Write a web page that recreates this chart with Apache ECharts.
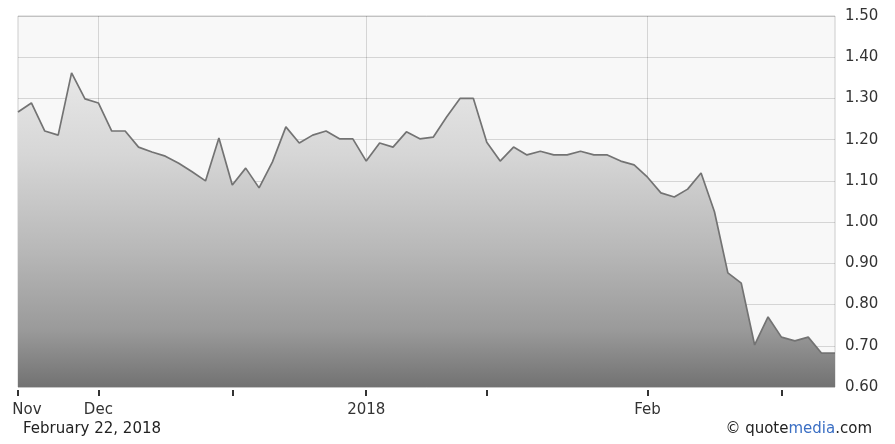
<!DOCTYPE html>
<html>
<head>
<meta charset="utf-8">
<script src="https://cdn.jsdelivr.net/npm/echarts@6/dist/echarts.min.js"></script>
<style>
  html, body { margin: 0; padding: 0; background: #fff; }
  #chart { width: 895px; height: 444px; }
</style>
</head>
<body>
<div id="chart"></div>
<script>
// trading days, Nov 22 2017 .. Feb 22 2018
const dates = [
  '2017-11-22', '2017-11-24', '2017-11-27', '2017-11-28', '2017-11-29', '2017-11-30',
  '2017-12-01', '2017-12-04', '2017-12-05', '2017-12-06', '2017-12-07', '2017-12-08',
  '2017-12-11', '2017-12-12', '2017-12-13', '2017-12-14', '2017-12-15',
  '2017-12-18', '2017-12-19', '2017-12-20', '2017-12-21', '2017-12-22',
  '2017-12-26', '2017-12-27', '2017-12-28', '2017-12-29',
  '2018-01-02', '2018-01-03', '2018-01-04', '2018-01-05',
  '2018-01-08', '2018-01-09', '2018-01-10', '2018-01-11', '2018-01-12',
  '2018-01-16', '2018-01-17', '2018-01-18', '2018-01-19',
  '2018-01-22', '2018-01-23', '2018-01-24', '2018-01-25', '2018-01-26',
  '2018-01-29', '2018-01-30', '2018-01-31',
  '2018-02-01', '2018-02-02', '2018-02-05', '2018-02-06', '2018-02-07', '2018-02-08', '2018-02-09',
  '2018-02-12', '2018-02-13', '2018-02-14', '2018-02-15', '2018-02-16',
  '2018-02-20', '2018-02-21', '2018-02-22'
];

// closing prices
const prices = [
  1.267, 1.289, 1.221, 1.211, 1.362, 1.299,
  1.289, 1.221, 1.221, 1.182, 1.170, 1.160,
  1.143, 1.122, 1.100, 1.204, 1.090,
  1.131, 1.083, 1.146, 1.231, 1.192,
  1.211, 1.221, 1.202, 1.202,
  1.148, 1.192, 1.182, 1.219,
  1.202, 1.206, 1.255, 1.300, 1.300,
  1.194, 1.148, 1.182, 1.163,
  1.172, 1.163, 1.163, 1.172, 1.163,
  1.163, 1.148, 1.139,
  1.109, 1.071, 1.061, 1.080, 1.119, 1.025, 0.877,
  0.852, 0.702, 0.770, 0.721, 0.712,
  0.721, 0.682, 0.682
];

// x axis labels and the extra unlabelled ticks
const labelDates = ['2017-11-22', '2017-12-01', '2018-01-02', '2018-02-01'];
const tickLabels = ['Nov', 'Dec', '2018', 'Feb'];
const minorTickDates = ['2017-12-15', '2018-01-16', '2018-02-15'];

const FONT = 'DejaVu Sans';

const chart = echarts.init(document.getElementById('chart'), null, { renderer: 'canvas' });

chart.setOption({
  animation: false,
  backgroundColor: '#ffffff',
  grid: {
    left: 18,
    right: 60,
    top: 16,
    bottom: 57,
    show: true,
    backgroundColor: '#f8f8f8',
    borderColor: '#cccccc',
    borderWidth: 1
  },
  xAxis: {
    type: 'category',
    data: dates,
    boundaryGap: false,
    offset: 3,
    z: 3,
    axisLine: { show: false },
    axisTick: {
      show: true,
      length: 6,
      interval: (i, v) => labelDates.includes(v) || minorTickDates.includes(v),
      lineStyle: { color: '#333', width: 2 }
    },
    axisLabel: {
      interval: (i, v) => labelDates.includes(v),
      margin: 13,
      color: '#333',
      fontFamily: FONT,
      fontSize: 15,
      formatter: v => {
        const k = labelDates.indexOf(v);
        if (k === 0) return '{first|' + tickLabels[k] + '}';
        return k >= 0 ? tickLabels[k] : '';
      },
      rich: {
        first: { fontFamily: FONT, fontSize: 15, color: '#333', padding: [0, 0, 0, 18] }
      }
    },
    splitLine: {
      show: true,
      interval: (i, v) => labelDates.includes(v) && i > 0,
      lineStyle: { color: 'rgba(0,0,0,0.14)', width: 1 }
    }
  },
  yAxis: {
    type: 'value',
    position: 'right',
    min: 0.6,
    max: 1.5,
    interval: 0.1,
    z: 3,
    axisLine: { show: false },
    axisTick: { show: false },
    axisLabel: {
      margin: 10,
      color: '#333',
      fontFamily: FONT,
      fontSize: 15,
      formatter: v => v.toFixed(2)
    },
    splitLine: {
      show: true,
      lineStyle: { color: 'rgba(0,0,0,0.14)', width: 1 }
    }
  },
  series: [{
    type: 'line',
    data: prices,
    symbol: 'none',
    lineStyle: { color: '#737373', width: 1.7 },
    areaStyle: {
      // gradient over the whole plot height, darkening faster near the bottom
      color: new echarts.graphic.LinearGradient(0, 16, 0, 387, [
        { offset: 0, color: '#f4f4f4' },
        { offset: 0.375, color: '#d6d6d6' },
        { offset: 0.63, color: '#b8b8b8' },
        { offset: 0.846, color: '#9a9a9a' },
        { offset: 1, color: '#727272' }
      ], true),
      opacity: 1
    }
  }],
  graphic: [
    {
      type: 'text',
      left: 23,
      top: 422,
      style: { text: 'February 22, 2018', fill: '#222', font: '15px "DejaVu Sans"' }
    },
    {
      type: 'text',
      right: 23,
      top: 422,
      style: {
        text: '© quote{m|media}.com',
        fill: '#222',
        font: '15px "DejaVu Sans"',
        rich: { m: { fill: '#3b6fc4', font: '15px "DejaVu Sans"' } }
      }
    }
  ]
});
</script>
</body>
</html>
